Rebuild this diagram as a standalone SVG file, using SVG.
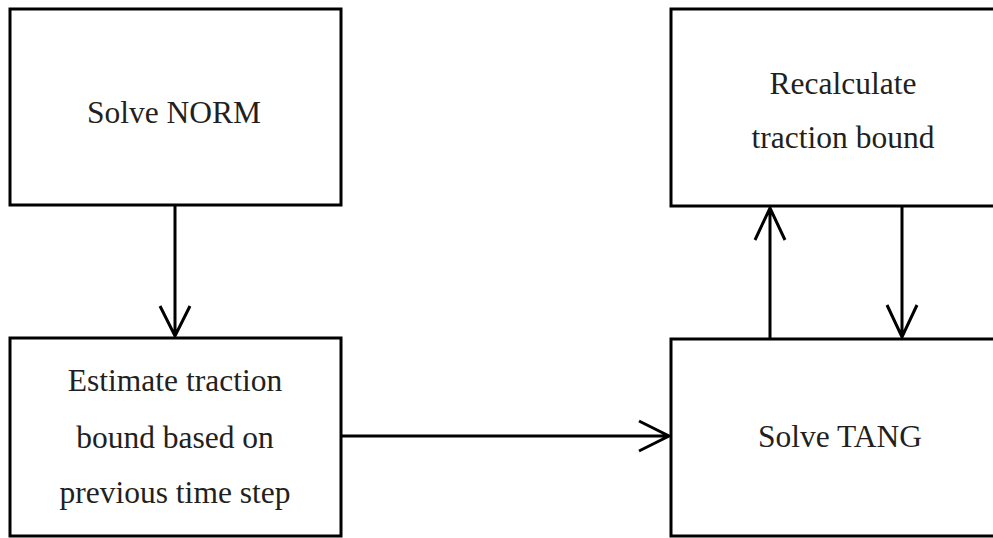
<svg xmlns="http://www.w3.org/2000/svg" width="993" height="538" viewBox="0 0 993 538">
<style>
.box{fill:#fff;stroke:#000;stroke-width:3}
.t{font-family:"Liberation Serif","Times New Roman",serif;font-size:31.5px;fill:#231f20;text-anchor:middle}
.c{fill:none;stroke:#000;stroke-width:3}
</style>
<rect width="993" height="538" fill="#fff"/>
<g id="n1"><rect class="box" x="10" y="9" width="331" height="196"/><text class="t" x="174" y="123">Solve NORM</text></g>
<g id="n2"><rect class="box" x="671" y="9" width="344" height="197"/><text class="t" x="843" y="94">Recalculate</text><text class="t" x="843" y="148">traction bound</text></g>
<g id="n3"><rect class="box" x="10" y="338" width="331" height="198"/><text class="t" x="175" y="391">Estimate traction</text><text class="t" x="175" y="448">bound based on</text><text class="t" x="175" y="503">previous time step</text></g>
<g id="n4"><rect class="box" x="671" y="339" width="344" height="197"/><text class="t" x="840" y="447">Solve TANG</text></g>
<g id="connectors">
<path class="c" d="M175 205V336M160 306L175 336L190 306"/>
<path class="c" d="M341 436H669M639 421L669 436L639 451"/>
<path class="c" d="M770 339V208M755 240L770 208L785 240"/>
<path class="c" d="M902 206V337M887 305L902 337L917 305"/>
</g>
</svg>
